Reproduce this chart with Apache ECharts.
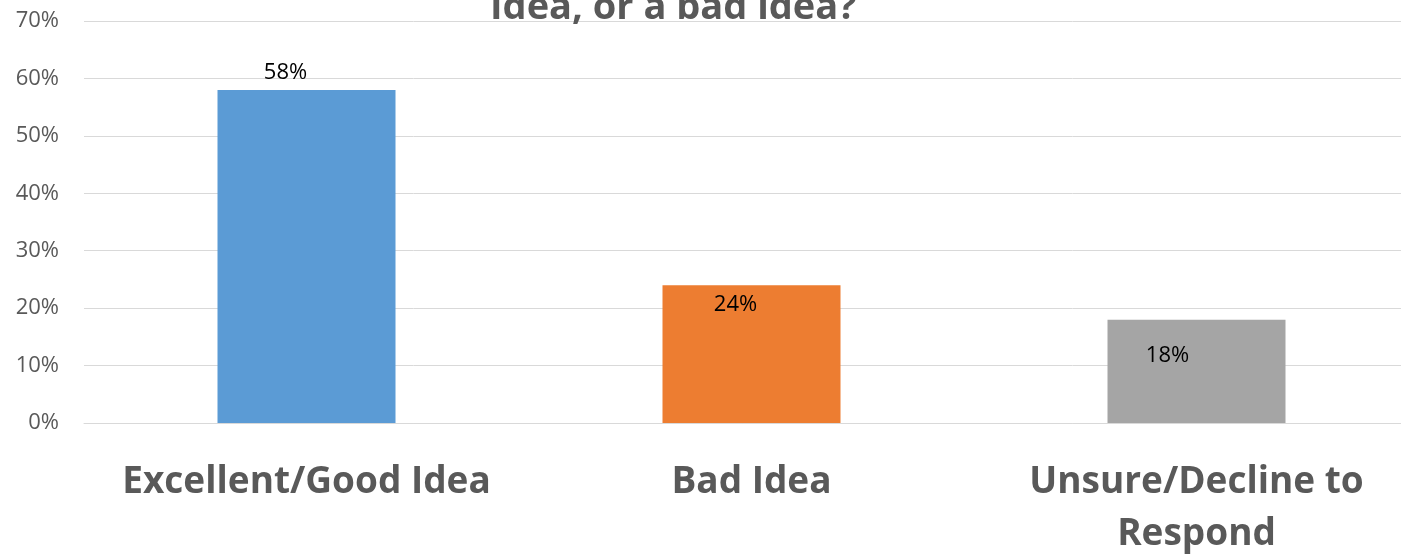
<!DOCTYPE html>
<html>
<head>
<meta charset="utf-8">
<script src="https://cdn.jsdelivr.net/npm/echarts@6/dist/echarts.min.js"></script>
<style>html,body{margin:0;padding:0;background:#fff;overflow:hidden;}#c{width:1401px;height:554px;}</style>
</head>
<body>
<div id="c"></div>
<script>
const titleText = 'Idea, or a bad idea?';
const categories = ['Excellent/Good Idea', 'Bad Idea', 'Unsure/Decline to\nRespond'];
const values = [58, 24, 18];
const colors = ['#5b9bd5', '#ed7d31', '#a5a5a5'];
const labelOffsets = [[68, -17], [73, 20], [60, 36]];

const chart = echarts.init(document.getElementById('c'));
chart.setOption({
  animation: false,
  title: {
    text: titleText,
    left: 490,
    top: -11,
    padding: 0,
    textStyle: { fontFamily: 'Open Sans', fontWeight: 'bold', fontSize: 38, color: '#595959' }
  },
  grid: { left: 84, top: 21, width: 1335, height: 402, containLabel: false, outerBoundsMode: 'none' },
  xAxis: {
    type: 'category',
    data: categories,
    axisLine: { show: true, lineStyle: { color: '#d9d9d9', width: 1 } },
    axisTick: { show: false },
    axisLabel: {
      fontFamily: 'Open Sans', fontWeight: 'bold', fontSize: 37, color: '#595959',
      lineHeight: 52, margin: 33, interval: 0
    }
  },
  yAxis: {
    type: 'value', min: 0, max: 70, interval: 10,
    axisLine: { show: false }, axisTick: { show: false },
    splitLine: { lineStyle: { color: '#d9d9d9', width: 1 } },
    axisLabel: { formatter: '{value}%', fontFamily: 'Open Sans', fontSize: 22, color: '#595959', margin: 25 }
  },
  series: [{
    type: 'bar',
    barWidth: '40%',
    data: values.map((v, i) => ({
      value: v,
      itemStyle: { color: colors[i] },
      label: {
        show: true, position: labelOffsets[i], align: 'center', verticalAlign: 'middle',
        formatter: '{c}%', fontFamily: 'Open Sans', fontSize: 22, color: '#000'
      }
    }))
  }]
});
</script>
</body>
</html>
